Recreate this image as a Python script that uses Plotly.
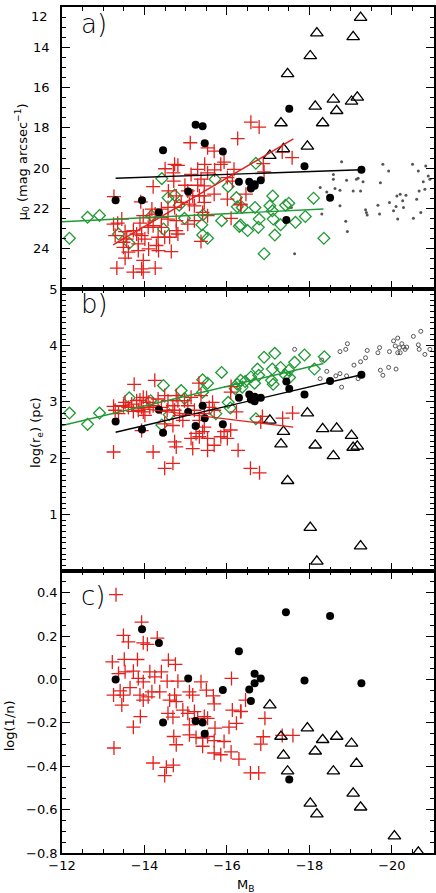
import plotly.graph_objects as go
from plotly.subplots import make_subplots

# ---- panel a: central surface brightness mu_0 vs M_B ----
a_cross_x = [-15.53, -15.69, -15.93, -15.46, -15.29, -14.50, -14.73, -14.81, -16.17, -15.85,
             -14.70, -14.71, -14.21, -15.13, -15.37, -15.53, -15.70, -14.98, -15.29, -15.45,
             -16.01, -16.13, -13.26, -13.91, -14.58, -14.77, -15.05, -15.17, -15.33, -15.45,
             -15.69, -16.01, -16.33, -15.09, -15.21, -14.57, -14.73, -14.89, -15.45, -14.18,
             -14.26, -14.41, -13.97, -14.13, -13.89, -13.45, -13.35, -13.25, -14.41, -14.57,
             -14.77, -15.05, -15.21, -15.41, -15.53, -16.10, -13.29, -13.53, -13.73, -13.81,
             -14.09, -14.21, -14.41, -14.49, -14.61, -14.77, -14.81, -15.37, -13.93, -14.01,
             -13.49, -13.57, -13.85, -14.33, -13.49, -13.61, -13.53, -13.85, -14.10, -14.29,
             -14.34, -14.65, -13.97, -13.93, -13.33, -13.73, -13.97, -14.26, -15.11, -16.58,
             -16.78, -16.26, -16.88, -16.90, -17.34, -17.58, -16.46, -16.34]
a_cross_y = [18.99, 19.16, 19.70, 19.81, 20.06, 20.03, 19.81, 19.86, 20.06, 19.81,
             20.23, 20.64, 20.92, 20.31, 20.55, 20.23, 20.09, 20.85, 20.85, 20.88,
             20.47, 20.64, 21.41, 21.67, 21.13, 21.38, 21.13, 21.38, 21.38, 21.38,
             21.29, 21.54, 21.79, 21.79, 21.87, 21.95, 21.95, 21.70, 21.70, 22.03,
             22.28, 22.03, 22.36, 22.45, 22.73, 22.53, 22.73, 22.78, 22.45, 22.53,
             22.61, 22.78, 22.61, 22.20, 22.36, 22.49, 23.35, 23.15, 23.10, 23.27,
             22.94, 22.86, 22.94, 23.43, 23.43, 23.10, 23.27, 23.64, 23.35, 23.52,
             23.68, 23.52, 23.76, 23.43, 23.93, 24.17, 24.47, 24.09, 24.01, 23.84,
             24.09, 24.14, 24.58, 25.00, 24.96, 25.16, 25.16, 24.96, 18.74, 17.72,
             17.96, 18.53, 19.78, 20.19, 19.20, 19.48, 21.29, 21.82]

a_diam_x = [-12.18, -12.62, -12.91, -13.37, -13.63, -14.42, -14.57, -14.73, -14.84, -14.17,
            -14.46, -14.97, -15.39, -15.42, -15.41, -15.53, -15.71, -16.03, -15.87, -16.23,
            -16.25, -16.37, -16.33, -16.50, -16.70, -16.68, -16.78, -17.11, -17.04, -17.10,
            -17.42, -17.50, -17.12, -16.76, -17.30, -17.66, -17.16, -17.90, -18.10, -18.35,
            -16.90, -16.30]
a_diam_y = [23.48, 22.44, 22.35, 23.27, 23.73, 20.52, 21.47, 21.34, 21.84, 22.36,
            23.02, 22.49, 22.81, 22.31, 23.32, 23.48, 20.55, 20.91, 22.61, 21.46,
            21.92, 21.95, 22.82, 23.10, 19.76, 21.95, 22.53, 21.38, 21.87, 22.12,
            21.84, 21.74, 22.53, 22.94, 22.81, 22.69, 23.32, 22.40, 21.49, 23.48,
            24.25, 22.89]

a_dot_x = [-18.78, -18.58, -18.58, -18.90, -19.14, -19.18, -19.30, -18.26, -18.42, -18.62,
           -18.74, -19.06, -19.24, -18.74, -18.30, -19.36, -19.38, -19.40, -19.66, -19.70,
           -18.88, -18.92, -17.64, -19.78, -19.92, -20.50, -20.64, -20.82, -19.72, -20.12,
           -20.20, -20.34, -20.26, -20.10, -20.28, -19.94, -20.04, -20.14, -20.52, -20.70,
           -20.60, -20.66, -20.80, -20.76, -20.88, -20.92, -17.56]
a_dot_y = [19.68, 20.31, 20.55, 20.60, 20.55, 20.50, 20.68, 20.96, 21.18, 21.01,
           21.10, 21.13, 21.13, 21.87, 22.28, 22.07, 22.20, 22.33, 21.84, 22.28,
           22.64, 23.15, 24.25, 19.81, 20.14, 19.81, 20.14, 19.89, 20.72, 21.38,
           21.29, 21.34, 21.62, 21.90, 21.95, 21.70, 22.11, 22.53, 22.49, 22.20,
           21.54, 21.13, 21.05, 20.68, 20.39, 20.55, 21.95]

a_circ_x = [-13.30, -13.94, -14.35, -14.45, -15.06, -15.24, -15.41, -15.46, -15.90, -16.29,
            -16.54, -16.58, -16.67, -16.67, -16.82, -17.44, -17.51, -17.88, -18.50, -19.26]
a_circ_y = [21.59, 21.59, 22.20, 19.11, 21.16, 17.84, 17.92, 18.76, 19.17, 20.68,
            20.68, 21.01, 20.88, 20.80, 20.60, 22.58, 17.05, 19.91, 21.47, 20.08]

a_tri_x = [-19.24, -18.18, -19.06, -18.02, -17.47, -18.58, -19.16, -18.14, -19.02, -18.66,
           -17.31, -18.32, -17.37, -17.95, -17.04]
a_tri_y = [12.53, 13.30, 13.48, 14.43, 15.32, 16.59, 16.49, 16.93, 16.69, 17.15,
           17.76, 17.76, 19.04, 18.92, 19.38]

a_fit_black = ([-13.30, -19.26], [20.50, 20.08])
a_fit_red = ([-13.24, -17.61], [23.81, 18.55])
a_fit_green = ([-12.0, -18.34], [22.66, 22.03])

# ---- panel b: log effective radius vs M_B ----
b_cross_x = [-13.75, -14.25, -13.25, -13.29, -13.37, -13.49, -13.53, -13.61, -13.69, -13.81,
             -13.89, -13.97, -14.05, -14.09, -14.13, -14.21, -13.93, -13.97, -14.01, -13.85,
             -13.73, -14.33, -14.41, -14.49, -14.57, -14.55, -14.69, -14.73, -14.77, -14.81,
             -14.85, -14.93, -15.05, -15.13, -15.21, -15.33, -15.37, -15.45, -15.45, -15.57,
             -15.65, -15.69, -15.33, -15.41, -15.25, -15.13, -15.53, -15.69, -15.85, -15.93,
             -16.01, -16.09, -15.17, -15.53, -14.77, -14.73, -14.21, -13.25, -14.49, -14.69,
             -16.27, -16.09, -13.93, -14.69, -14.49, -14.97, -16.10, -16.23, -16.57, -16.79,
             -16.86, -16.82, -17.35, -17.59, -15.32]
b_cross_y = [3.31, 3.38, 2.92, 2.85, 2.79, 2.93, 2.99, 2.90, 2.96, 3.02,
             3.03, 3.08, 3.07, 2.99, 2.90, 2.93, 2.90, 2.82, 2.76, 2.85,
             2.83, 3.05, 2.90, 3.11, 3.02, 2.85, 2.93, 2.85, 3.11, 3.02,
             2.76, 2.67, 2.93, 3.08, 2.85, 2.67, 3.11, 2.79, 2.55, 2.90,
             2.99, 2.85, 2.38, 2.47, 2.44, 2.35, 2.35, 2.23, 2.38, 2.47,
             2.35, 2.50, 2.17, 2.14, 2.20, 2.29, 2.11, 2.11, 1.82, 1.91,
             2.14, 3.17, 2.49, 2.58, 2.61, 3.02, 3.27, 2.82, 1.82, 1.74,
             2.74, 2.64, 2.71, 2.80, 3.33]

b_diam_x = [-12.18, -12.62, -12.91, -13.63, -14.15, -14.46, -14.42, -14.60, -14.89, -14.97,
            -15.41, -15.53, -15.41, -15.87, -15.73, -16.03, -16.08, -16.25, -16.33, -16.37,
            -16.58, -16.67, -16.70, -16.74, -16.77, -16.90, -17.10, -17.16, -17.30, -17.08,
            -17.12, -17.42, -17.50, -17.52, -17.64, -17.88, -18.12, -18.36, -16.20, -16.44]
b_diam_y = [2.80, 2.60, 2.80, 3.07, 3.02, 3.29, 2.59, 2.77, 3.20, 3.06,
            3.39, 3.33, 3.17, 3.52, 2.79, 2.99, 2.89, 3.31, 3.38, 3.26,
            3.44, 3.33, 2.70, 3.58, 3.47, 3.79, 3.58, 3.86, 3.61, 3.38,
            3.31, 3.47, 3.56, 3.43, 3.70, 3.83, 3.58, 3.80, 3.23, 3.36]

b_dot_x = [-17.64, -18.92, -18.88, -18.74, -19.40, -19.70, -19.66, -19.94, -20.04, -20.14,
           -20.08, -20.18, -20.24, -20.28, -20.32, -20.36, -20.14, -20.20, -20.64, -20.66,
           -20.52, -20.80, -20.70, -20.92, -18.30, -18.42, -18.26, -18.64, -18.74, -18.90,
           -18.78, -19.08, -19.24, -19.36, -19.18, -19.72, -19.78, -19.92, -20.10]
b_dot_y = [3.93, 4.03, 3.93, 3.89, 3.91, 3.96, 3.87, 3.89, 4.08, 4.13,
           3.99, 3.96, 4.03, 3.97, 3.93, 3.97, 3.87, 3.87, 4.01, 3.93,
           4.16, 3.84, 4.25, 3.93, 3.74, 3.54, 3.41, 3.46, 3.50, 3.46,
           3.26, 3.65, 3.71, 3.78, 3.41, 3.56, 3.47, 3.61, 3.58]

b_circ_x = a_circ_x
b_circ_y = [2.65, 2.51, 2.86, 2.45, 2.82, 2.57, 2.93, 2.71, 2.60, 3.07,
            3.13, 3.04, 3.09, 3.01, 3.07, 3.36, 3.23, 3.13, 3.37, 3.48]

b_tri_x = [-17.04, -17.95, -17.37, -17.31, -18.32, -18.66, -18.14, -19.02, -19.06, -19.16,
           -18.58, -17.47, -18.02, -19.24, -18.18]
b_tri_y = [2.67, 2.80, 2.47, 2.25, 2.52, 2.53, 2.23, 2.40, 2.19, 2.21,
           2.04, 1.60, 0.77, 0.44, 0.17]

b_fit_black = ([-13.30, -19.26], [2.46, 3.48])
b_fit_red = ([-13.24, -17.61], [2.94, 2.55])
b_fit_green = ([-12.0, -18.34], [2.58, 3.68])

# ---- panel c: log(1/n) vs M_B ----
c_cross_x = [-13.31, -13.93, -13.49, -13.61, -13.97, -14.07, -14.31, -13.22, -13.51, -13.83,
             -14.58, -14.75, -13.37, -13.53, -13.73, -13.85, -13.97, -14.13, -14.25, -14.41,
             -14.55, -14.81, -15.37, -16.11, -13.25, -13.41, -13.49, -13.65, -13.89, -13.97,
             -14.09, -14.18, -14.37, -14.61, -14.73, -14.77, -15.09, -15.17, -15.50, -15.67,
             -15.69, -13.45, -13.90, -13.73, -14.57, -14.69, -14.93, -15.05, -15.21, -15.09,
             -15.29, -15.45, -15.53, -15.09, -15.25, -15.41, -15.53, -14.71, -14.77, -15.41,
             -15.69, -15.93, -15.69, -15.85, -16.10, -16.29, -16.05, -16.23, -16.13, -16.33,
             -15.71, -13.26, -14.21, -14.53, -14.49, -14.70, -16.57, -16.77, -16.45, -16.92,
             -16.88, -16.82, -17.60, -17.34, -16.34]
c_cross_y = [0.391, 0.264, 0.203, 0.173, 0.169, 0.162, 0.191, 0.081, 0.093, 0.092,
             0.089, 0.070, 0.027, 0.035, 0.038, 0.005, -0.011, 0.035, 0.012, 0.035,
             -0.008, -0.008, -0.011, 0.005, -0.072, -0.053, -0.072, -0.038, -0.072, -0.095,
             -0.080, -0.057, -0.057, -0.095, -0.072, -0.102, -0.057, -0.072, -0.049, -0.076,
             -0.113, -0.118, -0.171, -0.220, -0.156, -0.174, -0.141, -0.156, -0.148, -0.209,
             -0.179, -0.171, -0.179, -0.255, -0.267, -0.270, -0.263, -0.263, -0.301, -0.308,
             -0.282, -0.286, -0.339, -0.347, -0.334, -0.367, -0.220, -0.202, -0.141, -0.148,
             -0.224, -0.316, -0.385, -0.405, -0.443, -0.395, -0.431, -0.431, -0.095, -0.179,
             -0.264, -0.298, -0.258, -0.258, -0.147]

c_circ_x = [-13.30, -13.94, -14.35, -14.45, -15.06, -15.24, -15.41, -15.46, -15.90, -16.29,
            -16.54, -16.58, -16.67, -16.67, -16.82, -17.43, -17.51, -17.88, -18.50, -19.26]
c_circ_y = [0.000, 0.231, 0.168, -0.198, 0.005, -0.192, -0.198, -0.250, -0.049, 0.130,
            -0.046, -0.099, 0.026, -0.017, 0.005, 0.310, -0.461, -0.005, 0.292, -0.017]

c_tri_x = [-17.04, -17.95, -17.31, -18.32, -18.66, -19.02, -18.14, -17.37, -17.47, -18.58,
           -19.14, -19.06, -19.24, -18.02, -18.18, -20.06, -20.64]
c_tri_y = [-0.118, -0.224, -0.263, -0.278, -0.263, -0.295, -0.331, -0.350, -0.423, -0.423,
           -0.388, -0.525, -0.589, -0.571, -0.621, -0.722, -0.797]

RED = '#e3211c'
GREEN = '#1f9a35'
FONT = 'DejaVu Sans'

fig = make_subplots(rows=3, cols=1, shared_xaxes=True, vertical_spacing=0)


def crosses(x, y, row):
    fig.add_trace(go.Scatter(x=x, y=y, mode='markers',
                             marker=dict(symbol='cross-thin', size=10, line=dict(color=RED, width=1.3))),
                  row=row, col=1)


def diamonds(x, y, row):
    fig.add_trace(go.Scatter(x=x, y=y, mode='markers',
                             marker=dict(symbol='diamond-open', size=9, color=GREEN, line=dict(width=1.3))),
                  row=row, col=1)


def circles(x, y, row):
    fig.add_trace(go.Scatter(x=x, y=y, mode='markers',
                             marker=dict(symbol='circle', size=8, color='black')), row=row, col=1)


def triangles(x, y, row):
    fig.add_trace(go.Scatter(x=x, y=y, mode='markers',
                             marker=dict(symbol='triangle-up-open', size=11, color='black', line=dict(width=1.3))),
                  row=row, col=1)


def fit(xy, color, row):
    fig.add_trace(go.Scatter(x=xy[0], y=xy[1], mode='lines', line=dict(color=color, width=1.4)), row=row, col=1)


# panel a
fig.add_trace(go.Scatter(x=a_dot_x, y=a_dot_y, mode='markers',
                         marker=dict(symbol='circle', size=3, color='#555555')), row=1, col=1)
diamonds(a_diam_x, a_diam_y, 1)
crosses(a_cross_x, a_cross_y, 1)
circles(a_circ_x, a_circ_y, 1)
triangles(a_tri_x, a_tri_y, 1)
fit(a_fit_black, 'black', 1)
fit(a_fit_red, RED, 1)
fit(a_fit_green, GREEN, 1)

# panel b
fig.add_trace(go.Scatter(x=b_dot_x, y=b_dot_y, mode='markers',
                         marker=dict(symbol='circle-open', size=4, color='#555555', line=dict(width=1))),
              row=2, col=1)
diamonds(b_diam_x, b_diam_y, 2)
crosses(b_cross_x, b_cross_y, 2)
circles(b_circ_x, b_circ_y, 2)
triangles(b_tri_x, b_tri_y, 2)
fit(b_fit_black, 'black', 2)
fit(b_fit_red, RED, 2)
fit(b_fit_green, GREEN, 2)

# panel c
crosses(c_cross_x, c_cross_y, 3)
circles(c_circ_x, c_circ_y, 3)
triangles(c_tri_x, c_tri_y, 3)

axis_style = dict(showline=True, linecolor='black', linewidth=1.5, mirror='allticks',
                  ticks='inside', ticklen=8, tickwidth=1.2, tickcolor='black',
                  showgrid=False, zeroline=False,
                  tickfont=dict(family=FONT, size=13, color='black'))

for r in (1, 2, 3):
    fig.update_xaxes(range=[-12, -21.02], dtick=2,
                     minor=dict(dtick=0.5, ticklen=4, ticks='inside', tickcolor='black', showgrid=False),
                     **axis_style, row=r, col=1)

fig.update_yaxes(range=[26, 12], tickvals=[14, 16, 18, 20, 22, 24], ticklabelstandoff=8,
                 minor=dict(dtick=0.5, ticklen=4, ticks='inside', tickcolor='black', showgrid=False),
                 **axis_style, row=1, col=1)
fig.update_yaxes(range=[0, 5], tickvals=[1, 2, 3, 4, 5],
                 minor=dict(dtick=0.1, ticklen=4, ticks='inside', tickcolor='black', showgrid=False),
                 **axis_style, row=2, col=1)
fig.update_yaxes(range=[-0.8, 0.5], tickvals=[-0.8, -0.6, -0.4, -0.2, 0.0, 0.2, 0.4],
                 ticktext=['\u22120.8', '\u22120.6', '\u22120.4', '\u22120.2', '0.0', '0.2', '0.4'],
                 minor=dict(dtick=0.05, ticklen=4, ticks='inside', tickcolor='black', showgrid=False),
                 **axis_style, row=3, col=1)

# top tick label of panel a sits on the figure edge, draw it as text so it stays visible
fig.add_annotation(text='12', xref='paper', yref='y', x=-0.032, y=12, xanchor='right', yanchor='top',
                   showarrow=False, font=dict(family=FONT, size=13, color='black'))

labels = [('a)', 'y domain', 0.94), ('b)', 'y2 domain', 0.948), ('c)', 'y3 domain', 0.91)]
for txt, yref, yy in labels:
    fig.add_annotation(text=txt, xref='x domain', yref=yref, x=0.045, y=yy,
                       xanchor='left', yanchor='middle', showarrow=False,
                       font=dict(family=FONT, size=26, color='black', weight=300))

ytitles = [('\u03bc<sub>0</sub> (mag arcsec<sup>\u22121</sup>)', 'y domain', 0.45, -0.107),
           ('log(r<sub>e</sub>) (pc)', 'y2 domain', 0.49, -0.067),
           ('log(1/n)', 'y3 domain', 0.45, -0.142)]
for txt, yref, yy, xx in ytitles:
    fig.add_annotation(text=txt, xref='paper', yref=yref, x=xx, y=yy, textangle=-90,
                       xanchor='center', yanchor='middle', showarrow=False,
                       font=dict(family=FONT, size=13, color='black'))

fig.add_annotation(text='M<sub>B</sub>', xref='paper', yref='paper', x=0.492, y=-0.038,
                   xanchor='center', yanchor='middle', showarrow=False,
                   font=dict(family=FONT, size=13, color='black'))

fig.update_layout(width=436, height=893, showlegend=False,
                  margin=dict(l=62, r=0, t=0, b=40),
                  plot_bgcolor='white', paper_bgcolor='white',
                  font=dict(family=FONT, color='black'))

# the page body has a default margin; drop it so the figure sits at the window corner
fig.write_html("out.html", config={'displayModeBar': False},
               post_script="document.body.style.margin='0';document.body.style.overflow='hidden';")
